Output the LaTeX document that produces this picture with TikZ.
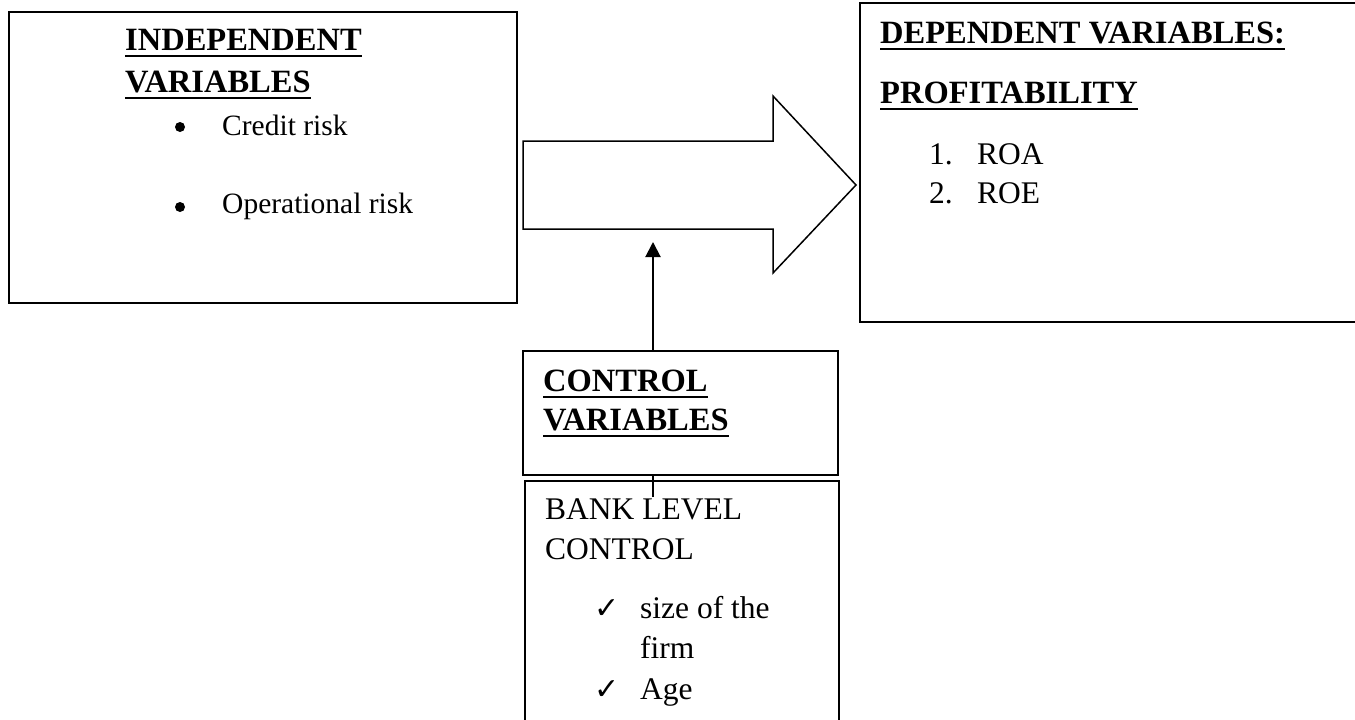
\documentclass[tikz,border=0pt]{standalone}
\usepackage{fontspec}
\setmainfont{Liberation Serif}
\newfontfamily\dejavu{DejaVu Sans}
\usetikzlibrary{arrows.meta}
\newcommand\myul[1]{\setbox0\hbox{#1}\rlap{\rule[-7pt]{\wd0}{2pt}}\box0}
\tikzset{
  box/.style={draw, line width=1.5pt, anchor=north west, inner sep=0pt},
  hd/.style={anchor=base west, inner sep=0pt, font=\fontsize{32.5}{38}\selectfont\bfseries},
  tx/.style={anchor=base west, inner sep=0pt, font=\fontsize{29.5}{35}\selectfont},
  tb/.style={anchor=base west, inner sep=0pt, font=\fontsize{31.5}{38}\selectfont},
  ck/.style={anchor=base west, inner sep=0pt, font=\dejavu\fontsize{30}{34}\selectfont},
  dot/.style={circle, fill, inner sep=0pt, minimum size=10pt},
}
\begin{document}
\begin{tikzpicture}[x=1pt,y=-1pt]
\useasboundingbox (0,0) rectangle (1355,720);
\clip (0,0) rectangle (1355,720);
% boxes
\node[box, minimum width=508pt, minimum height=291pt] (indep) at (8,11) {};
\node[box, minimum width=510pt, minimum height=319pt] (dep) at (859,2) {};
\node[box, minimum width=315pt, minimum height=124pt] (ctrl) at (522,350) {};
\node[box, minimum width=314pt, minimum height=260pt] (bank) at (524,480) {};
% big arrow
\draw[line width=1.5pt, line join=miter]
  (523,141) -- (773,141) -- (773,96) -- (856,185) -- (773,273) -- (773,229) -- (523,229) -- cycle;
% independent texts
\node[hd] (i1) at (125,50) {\myul{INDEPENDENT}};
\node[hd] (i2) at (125,92) {\myul{VARIABLES}};
\node[dot] (b1) at (180,127) {};
\node[tx] (i3) at (222,135) {Credit risk};
\node[dot] (b2) at (180,207) {};
\node[tx] (i4) at (222,213) {Operational risk};
% dependent texts
\node[hd] (d1) at (880,43) {\myul{DEPENDENT VARIABLES:}};
\node[hd] (d2) at (880,103) {\myul{PROFITABILITY}};
\node[tb] (n1) at (929,164) {1.};
\node[tb] (d3) at (977,164) {ROA};
\node[tb] (n2) at (929,203) {2.};
\node[tb] (d4) at (977,203) {ROE};
% control texts
\node[hd] (c1) at (543,391) {\myul{CONTROL}};
\node[hd] (c2) at (543,430) {\myul{VARIABLES}};
% bank texts
\node[tb] (k1) at (545,519) {BANK LEVEL};
\node[tb] (k2) at (545,559) {CONTROL};
\node[ck] (ck1) at (594,618) {✓};
\node[tb] (k3) at (640,618) {size of the};
\node[tb] (k4) at (640,658) {firm};
\node[ck] (ck2) at (594,699) {✓};
\node[tb] (k5) at (640,699) {Age};
% connectors
\coordinate (ctop) at (653,350);
\coordinate (atip) at (653,242);
\coordinate (cbot) at (653,474);
\coordinate (bin) at (653,497);
\draw[line width=2pt, -{Triangle[length=15pt,width=15pt]}] (ctop) -- (atip);
\draw[line width=2pt] (cbot) -- (bin);
\end{tikzpicture}
\end{document}
